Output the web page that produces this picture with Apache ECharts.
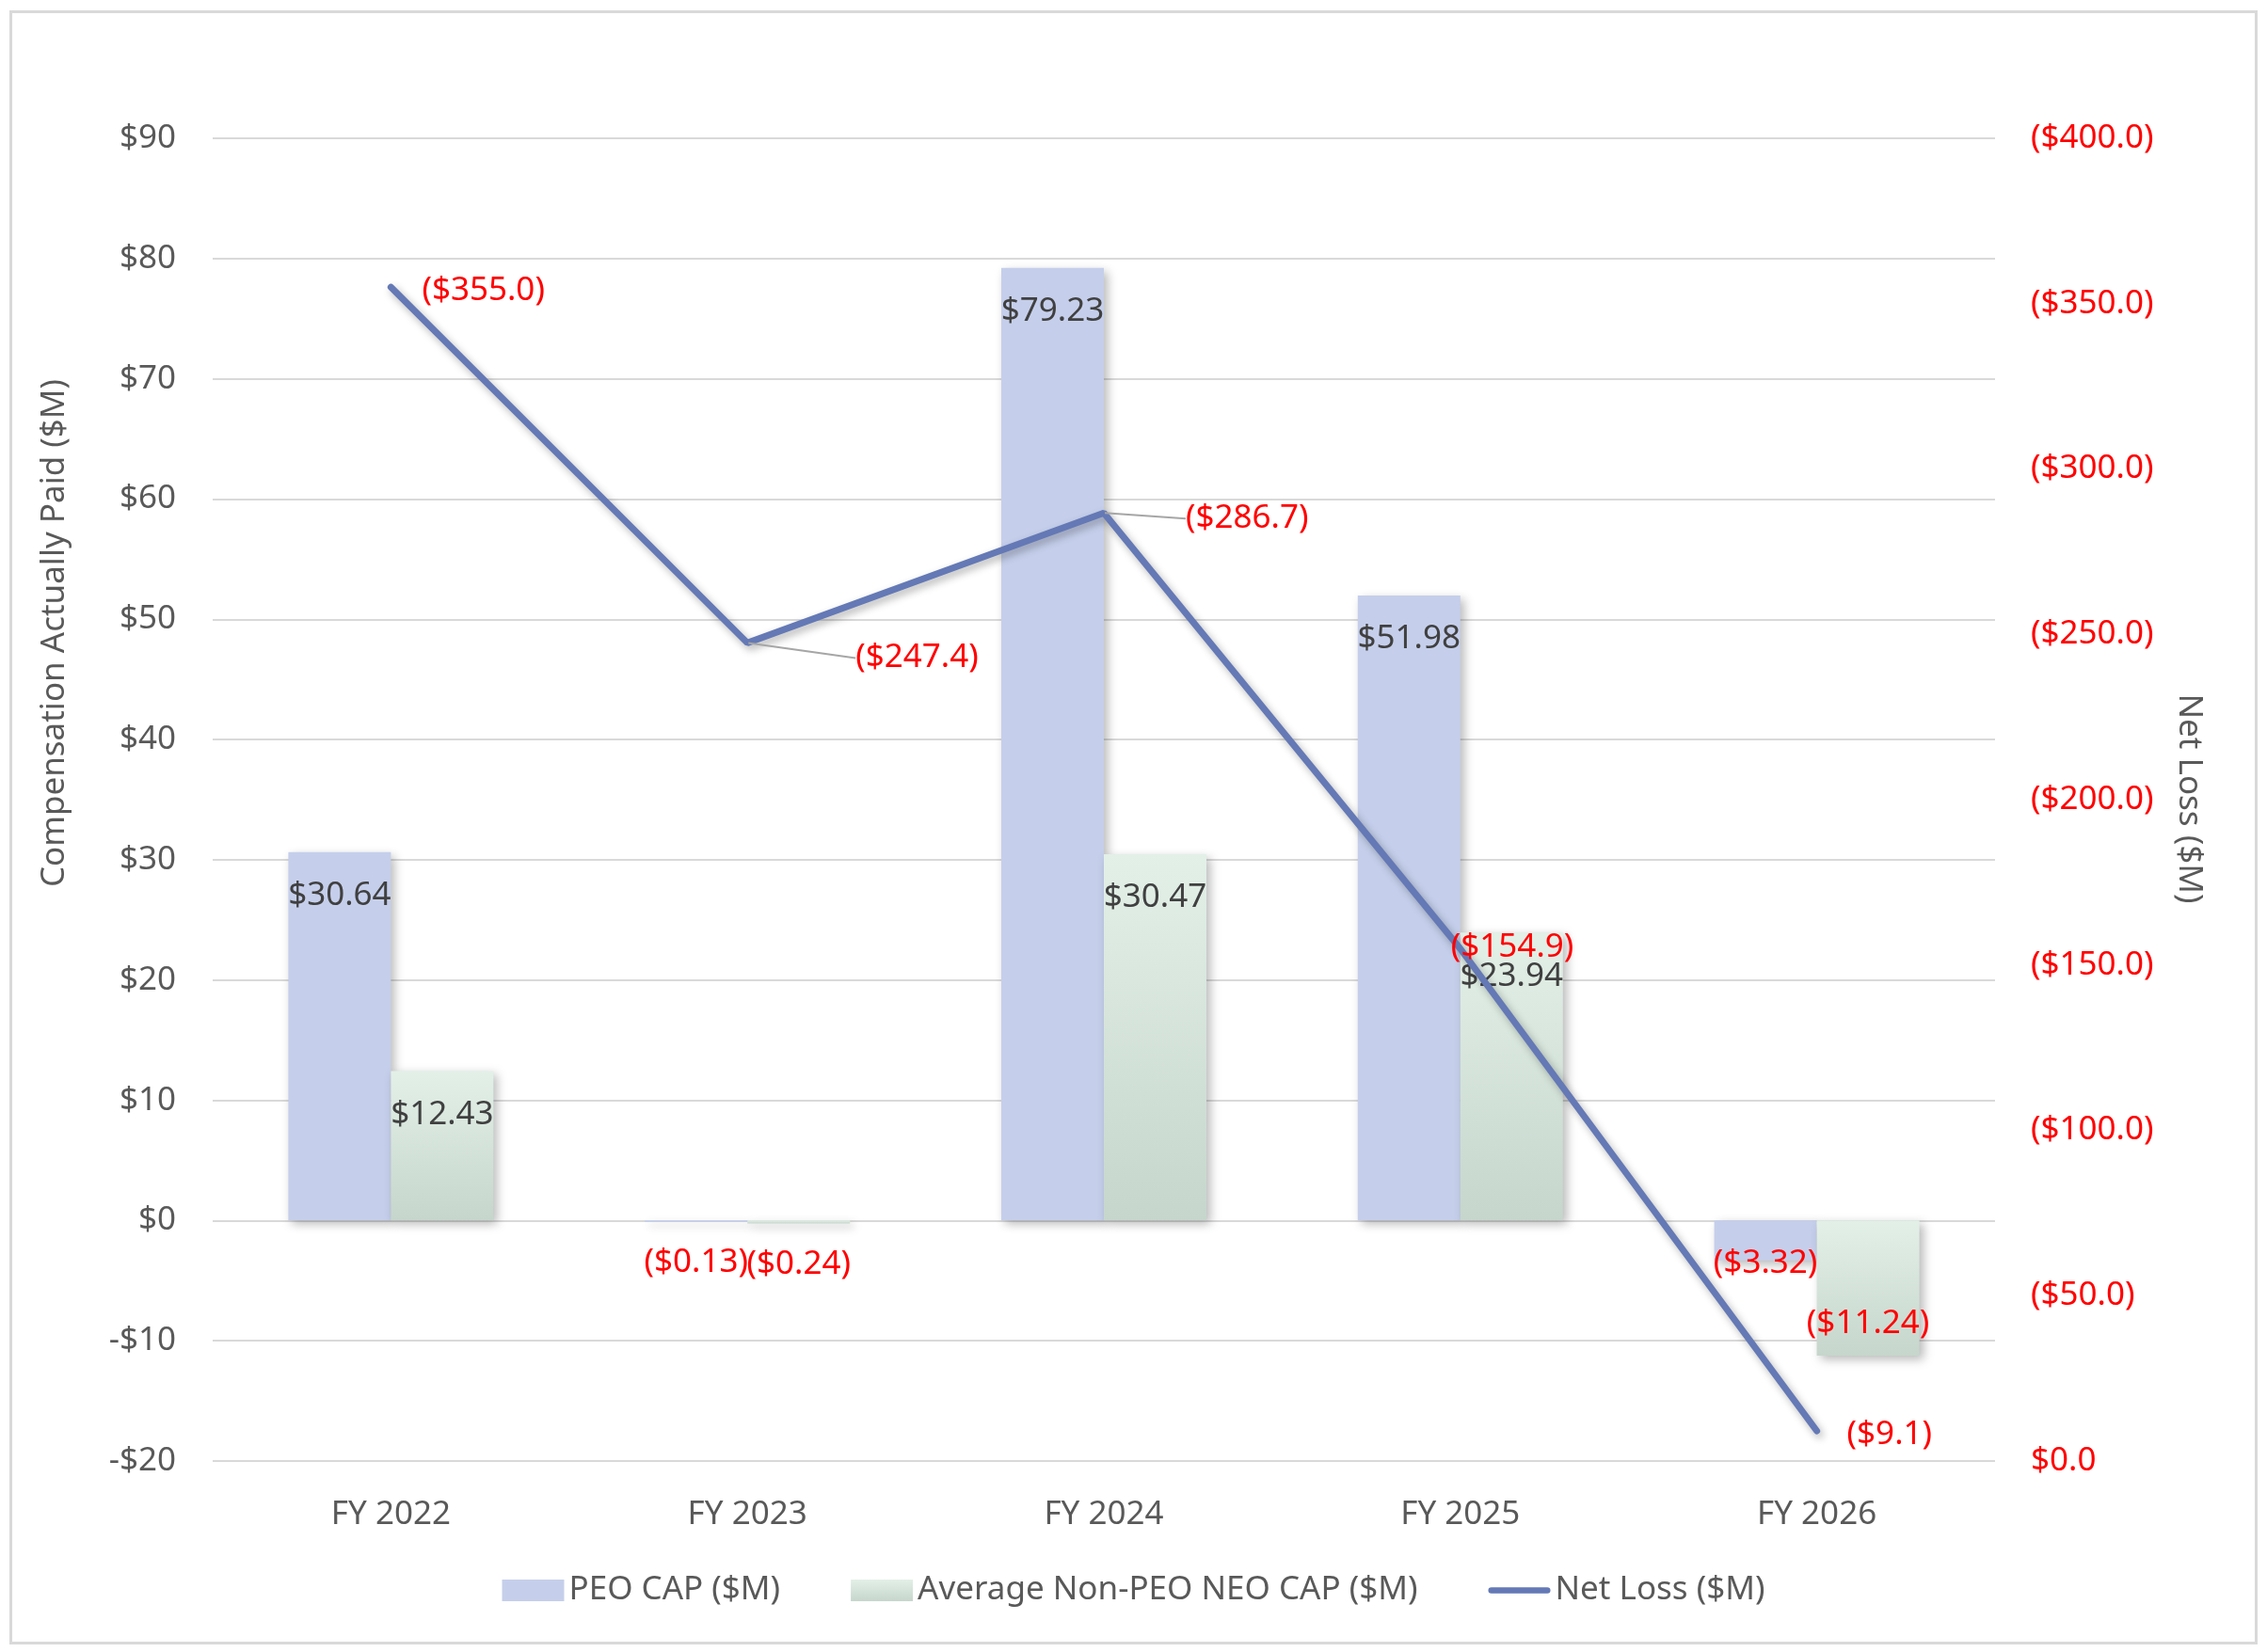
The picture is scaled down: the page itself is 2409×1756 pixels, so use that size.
<!DOCTYPE html>
<html lang="en">
<head>
    <meta http-equiv="Content-Type" content="text/html; charset=UTF-8">
    <title>Compensation Actually Paid vs Net Loss</title>
    <script type="text/javascript" src="https://cdn.jsdelivr.net/npm/echarts@6/dist/echarts.min.js"></script>
</head>
<body style="margin:0;width:2409px;height:1756px;background:#fff">

<!-- chart frame -->
<div style="position:absolute;left:10px;top:11px;width:2383px;height:1731px;border:3px solid #d9d9d9"></div>
<div id="main" style="position:absolute;left:0;top:0;width:2409px;height:1756px"></div>

<script type="text/javascript">
    // data
    var years = ['FY 2022', 'FY 2023', 'FY 2024', 'FY 2025', 'FY 2026'];
    var peoCap = [30.64, -0.13, 79.23, 51.98, -3.32];
    var neoCap = [12.43, -0.24, 30.47, 23.94, -11.24];
    var netLoss = [355.0, 247.4, 286.7, 154.9, 9.1];

    // label shifts for the net loss labels (px), and which ones get a leader line
    var lossLabelShift = [[32, 4], [114, 16], [86, 6], [-11, -1], [31, 4]];
    var lossLeader = [false, true, true, false, false];

    var fontName = 'Noto Sans';
    var fs = 35;

    function money(v) {
        return v < 0 ? '($' + Math.abs(v).toFixed(2) + ')' : '$' + v.toFixed(2);
    }

    // label placement like Excel's "inside end"
    function barLabel(v) {
        var lab = {color: v < 0 ? '#ff0000' : '#404040'};
        if (v >= 0) {
            lab.position = 'insideTop';
            lab.distance = 29;
        } else if (Math.abs(v) < 1) {
            lab.position = 'bottom';
            lab.distance = 26;
        } else if (Math.abs(v) < 5) {
            lab.position = 'bottom';
            lab.distance = -14;
        } else {
            lab.position = 'insideBottom';
            lab.distance = 17;
        }
        return lab;
    }

    var myChart = echarts.init(document.getElementById('main'));

    var barShadow = {
        shadowBlur: 10,
        shadowOffsetX: 4,
        shadowOffsetY: 4,
        shadowColor: 'rgba(0, 0, 0, 0.28)'
    };

    myChart.setOption({
        animation: false,
        textStyle: {fontFamily: fontName},
        grid: {left: 226, right: 289, top: 147, bottom: 203},
        legend: {
            left: 'center',
            top: 1668,
            itemWidth: 66,
            itemHeight: 23,
            itemGap: 75,
            textStyle: {fontSize: fs, color: '#595959', fontFamily: fontName},
            data: [
                {name: 'PEO CAP ($M)', icon: 'rect'},
                {name: 'Average Non-PEO NEO CAP ($M)', icon: 'rect'},
                {name: 'Net Loss ($M)', icon: 'path://M5,0 H95 A5,5 0 0 1 95,10 H5 A5,5 0 0 1 5,0 Z'}
            ]
        },
        xAxis: {
            type: 'category',
            data: years,
            axisLine: {show: false, onZero: false},
            axisTick: {show: false},
            axisLabel: {fontSize: fs, color: '#595959', margin: 40}
        },
        yAxis: [{
            type: 'value',
            min: -20,
            max: 90,
            interval: 10,
            axisLine: {show: false},
            axisTick: {show: false},
            splitLine: {lineStyle: {color: '#d9d9d9', width: 2}},
            axisLabel: {
                fontSize: fs,
                color: '#595959',
                margin: 39,
                formatter: function (v) { return v < 0 ? '-$' + Math.abs(v) : '$' + v; }
            }
        }, {
            type: 'value',
            min: 0,
            max: 400,
            interval: 50,
            position: 'right',
            axisLine: {show: false},
            axisTick: {show: false},
            splitLine: {show: false},
            axisLabel: {
                fontSize: fs,
                color: '#ff0000',
                margin: 38,
                formatter: function (v) { return v === 0 ? '$0.0' : '($' + v.toFixed(1) + ')'; }
            }
        }],
        graphic: [{
            type: 'text',
            x: 58,
            y: 673,
            rotation: Math.PI / 2,
            style: {
                text: 'Compensation Actually Paid ($M)',
                fill: '#595959',
                font: fs + 'px "' + fontName + '"',
                textAlign: 'center',
                textVerticalAlign: 'middle'
            }
        }, {
            type: 'text',
            x: 2326,
            y: 849,
            rotation: -Math.PI / 2,
            style: {
                text: 'Net Loss ($M)',
                fill: '#595959',
                font: fs + 'px "' + fontName + '"',
                textAlign: 'center',
                textVerticalAlign: 'middle'
            }
        }],
        series: [{
            name: 'PEO CAP ($M)',
            type: 'bar',
            barWidth: 109,
            barGap: '0%',
            itemStyle: Object.assign({color: '#c5cfeb'}, barShadow),
            label: {show: true, fontSize: fs, formatter: function (p) { return money(p.value); }},
            data: peoCap.map(function (v) { return {value: v, label: barLabel(v)}; })
        }, {
            name: 'Average Non-PEO NEO CAP ($M)',
            type: 'bar',
            barWidth: 109,
            barGap: '0%',
            itemStyle: Object.assign({
                color: new echarts.graphic.LinearGradient(0, 0, 0, 1, [
                    {offset: 0, color: '#e3f0e8'},
                    {offset: 1, color: '#c6d6cc'}
                ])
            }, barShadow),
            label: {show: true, fontSize: fs, formatter: function (p) { return money(p.value); }},
            data: neoCap.map(function (v) { return {value: v, label: barLabel(v)}; })
        }, {
            name: 'Net Loss ($M)',
            type: 'line',
            yAxisIndex: 1,
            symbol: 'circle',
            symbolSize: 2,
            itemStyle: {color: '#6479b5'},
            lineStyle: {
                color: '#6479b5',
                width: 7,
                cap: 'round',
                shadowBlur: 8,
                shadowOffsetX: 3,
                shadowOffsetY: 4,
                shadowColor: 'rgba(0, 0, 0, 0.3)'
            },
            label: {
                show: true,
                position: 'right',
                distance: 0,
                fontSize: fs,
                color: '#ff0000',
                formatter: function (p) { return '($' + p.value.toFixed(1) + ')'; }
            },
            labelLine: {show: true, lineStyle: {color: '#a6a6a6', width: 2}},
            labelLayout: function (params) {
                var s = lossLabelShift[params.dataIndex];
                return {dx: s[0], dy: s[1]};
            },
            data: netLoss.map(function (v, i) {
                return {value: v, labelLine: {show: lossLeader[i]}};
            })
        }]
    });
</script>
</body>
</html>
